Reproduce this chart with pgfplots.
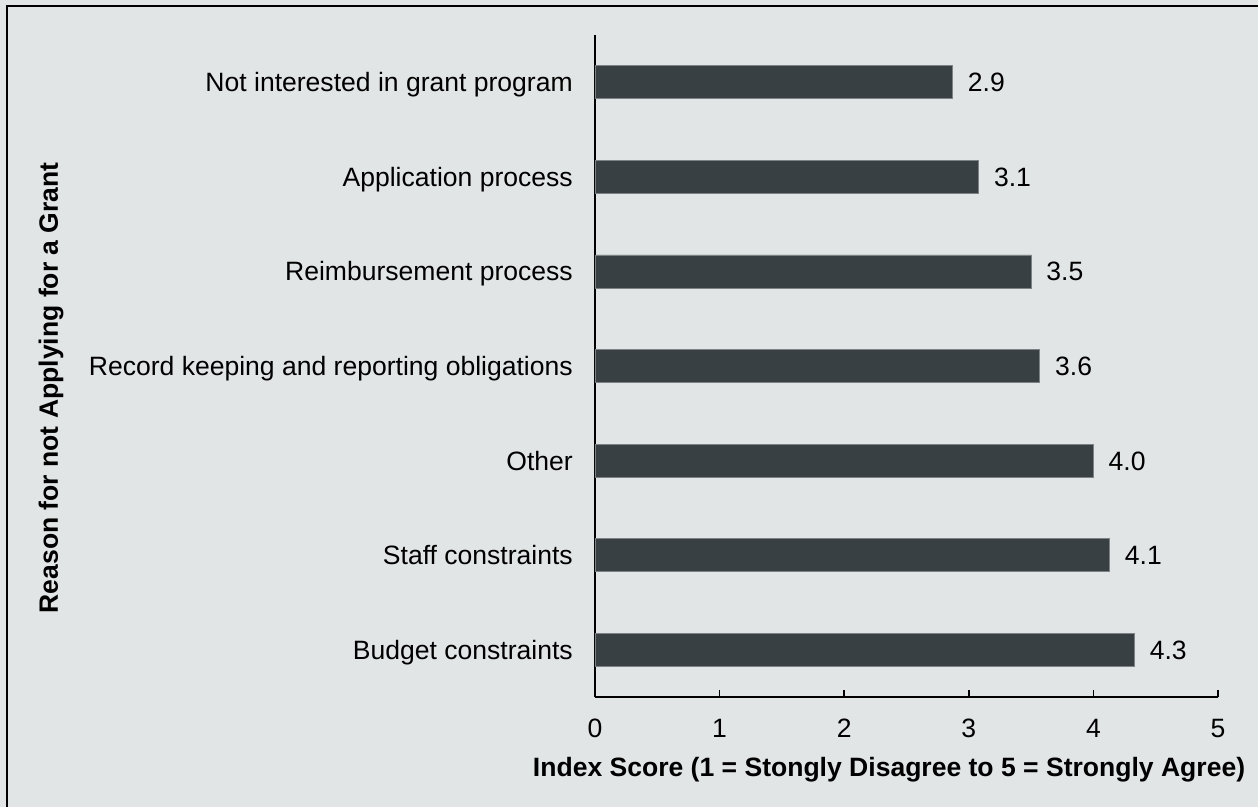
\documentclass[border=0pt]{standalone}
\usepackage{fontspec}
\setmainfont{Liberation Sans}
\usepackage{pgfplots}
\pgfplotsset{compat=1.18}
\definecolor{bgc}{RGB}{225,229,229}
\definecolor{barc}{RGB}{57,64,67}
\definecolor{baredge}{RGB}{125,130,132}
\newcommand\cf{\fontsize{19.9pt}{24pt}\selectfont}
\begin{document}
\begin{tikzpicture}
\path[use as bounding box] (0,0) rectangle (943.5pt,605.25pt);
\fill[bgc] (0,0) rectangle (943.5pt,605.25pt);
\draw[black, line width=1.7pt] (5.25pt,-2pt) -- (5.25pt,600.75pt) -- (946pt,600.75pt);
\begin{axis}[
  at={(446.25pt,82.5pt)}, anchor=south west,
  scale only axis, width=467.25pt, height=496.5pt,
  xbar, bar width=24.75pt, bar shift=0pt,
  xmin=0, xmax=5, ymin=-0.5, ymax=6.5,
  axis x line*=bottom, axis y line*=left,
  axis line style={-, line width=1.3pt, black},
  xtick={0,1,2,3,4,5},
  ytick={0,1,2,3,4,5,6},
  yticklabels={Budget constraints, Staff constraints, Other, Record keeping and reporting obligations, Reimbursement process, Application process, Not interested in grant program},
  tick align=inside, major tick length=5.25pt,
  x tick style={line width=1.3pt, black},
  y tick style={draw=none},
  /pgf/number format/assume math mode=true,
  xticklabel style={font=\cf, anchor=base, inner sep=0pt, yshift=-30.75pt},
  yticklabel style={font=\cf, anchor=base east, inner sep=0pt, xshift=-16.5pt, yshift=-7.1pt},
  nodes near coords,
  nodes near coords style={font=\cf, anchor=base west, inner sep=0pt, xshift=11.25pt, yshift=-7.1pt, black,
    /pgf/number format/.cd, fixed, fixed zerofill, precision=1, assume math mode=true},
  xlabel={\bfseries Index Score (1 = Stongly Disagree to 5 = Strongly Agree)},
  ylabel={\bfseries Reason for not Applying for a Grant},
  xlabel style={font=\cf, at={(axis description cs:0.472,-0.1208)}, anchor=base, inner sep=0pt},
  ylabel style={font=\cf, at={(axis description cs:-0.862,0.467)}, anchor=base, rotate=0, inner sep=0pt},
  clip=false,
]
\addplot[fill=barc, draw=baredge, line width=0.5pt] coordinates {
  (4.33,0) (4.13,1) (4.00,2) (3.57,3) (3.50,4) (3.08,5) (2.87,6)
};
\end{axis}
\end{tikzpicture}
\end{document}
